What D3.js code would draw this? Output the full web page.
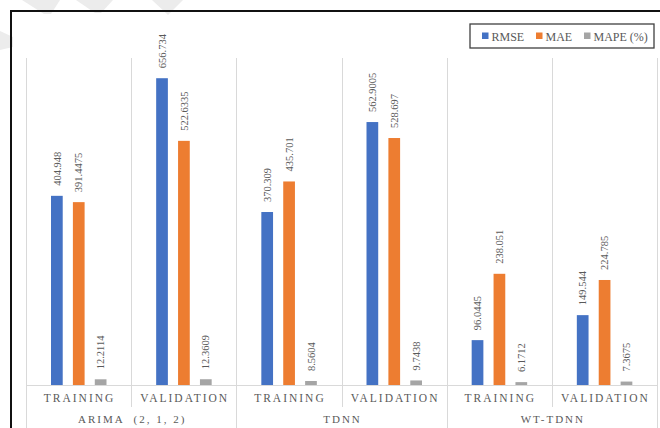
<!DOCTYPE html>
<html>
<head>
<meta charset="utf-8">
<script src="https://cdn.jsdelivr.net/npm/d3@7"></script>
<style>
  html, body { margin: 0; padding: 0; background: #fff; }
  svg { display: block; }
</style>
</head>
<body>
<svg id="chart" width="660" height="428" font-family="'Liberation Serif', 'DejaVu Serif', serif"></svg>
<script>
// ---- data ----
const groups = ["ARIMA  (2, 1, 2)", "TDNN", "WT-TDNN"];
const phases = ["TRAINING", "VALIDATION"];
const series = ["RMSE", "MAE", "MAPE (%)"];
const rmse = [404.948, 656.734, 370.309, 562.9005, 96.0445, 149.544];
const mae  = [391.4475, 522.6335, 435.701, 528.697, 238.051, 224.785];
const mape = [12.2114, 12.3609, 8.5604, 9.7438, 6.1712, 7.3675];
const colors = ["#4472C4", "#ED7D31", "#A5A5A5"];
const yMax = 700;

const categories = [];
groups.forEach((g, gi) => phases.forEach((p, pi) => categories.push({ id: gi + "-" + pi, group: g, phase: p })));
const valuesBySeries = [rmse, mae, mape];
const rows = categories.map((c, i) => ({ ...c, vals: series.map((s, si) => ({ s, si, v: valuesBySeries[si][i] })) }));

const svg = d3.select("#chart");

// faint watermark remnants (decoration)
const wm = svg.append("g").attr("fill", "#ececec");
[
  [[22,0],[60,0],[51,14],[44,14]],
  [[76,0],[113,0],[101,13],[95,13]],
  [[152,0],[183,0],[168,15]],
  [[0,31],[13,37],[13,47],[0,50]]
].forEach(p => wm.append("polygon").attr("points", p.map(d => d.join(",")).join(" ")));

// outer frame
svg.append("rect").attr("x", 11).attr("y", 11).attr("width", 700).attr("height", 500)
  .attr("fill", "none").attr("stroke", "#111").attr("stroke-width", 2);

const pLeft = 26, pRight = 657, pTop = 58, pBase = 385;
const x0 = d3.scaleBand().domain(categories.map(c => c.id)).range([pLeft, pRight]).padding(0);
const x1 = d3.scaleBand().domain(series).range([25, 80.5]).paddingInner(0.465).paddingOuter(0);
const y = d3.scaleLinear().domain([0, yMax]).range([pBase, pTop]);

// vertical separators
const grid = svg.append("g").attr("stroke", "#d9d9d9").attr("stroke-width", 1);
d3.range(categories.length + 1).forEach(i => {
  const xx = Math.round(pLeft + i * x0.step()) + 0.5;
  grid.append("line").attr("x1", xx).attr("x2", xx).attr("y1", pTop)
    .attr("y2", i % 2 === 0 ? 428 : 407);
});
grid.append("line").attr("x1", pLeft).attr("x2", pRight).attr("y1", pBase + 0.5).attr("y2", pBase + 0.5);

// bars
const cat = svg.append("g").selectAll("g").data(rows).join("g")
  .attr("transform", d => `translate(${x0(d.id)},0)`);
cat.selectAll("rect").data(d => d.vals).join("rect")
  .attr("x", d => x1(d.s))
  .attr("width", x1.bandwidth())
  .attr("y", d => y(d.v))
  .attr("height", d => pBase - y(d.v))
  .attr("fill", d => colors[d.si]);

// value labels
cat.selectAll("text").data(d => d.vals).join("text")
  .attr("transform", d => `translate(${x1(d.s) + x1.bandwidth() / 2},${y(d.v) - 10}) rotate(-90)`)
  .attr("dy", "0.35em")
  .attr("text-anchor", "start")
  .attr("font-size", 10.5)
  .attr("fill", "#595959")
  .text(d => String(d.v));

// category labels
svg.append("g").selectAll("text").data(categories).join("text")
  .attr("x", d => x0(d.id) + x0.bandwidth() / 2 + 1)
  .attr("y", 402)
  .attr("text-anchor", "middle")
  .attr("font-size", 11.5)
  .attr("letter-spacing", "2px")
  .attr("fill", "#595959")
  .text(d => d.phase);

// group labels
svg.append("g").selectAll("text").data(groups).join("text")
  .attr("x", (d, i) => pLeft + (i * 2 + 1) * x0.step() + 1)
  .attr("y", 423)
  .attr("text-anchor", "middle")
  .attr("font-size", 11)
  .attr("letter-spacing", "2px")
  .attr("fill", "#595959")
  .style("white-space", "pre")
  .text(d => d);

// legend
const lg = svg.append("g");
lg.append("rect").attr("x", 470).attr("y", 24).attr("width", 184).attr("height", 24)
  .attr("fill", "#fff").attr("stroke", "#404040").attr("stroke-width", 1.3);
const legX = [482, 536, 584];
series.forEach((s, i) => {
  lg.append("rect").attr("x", legX[i]).attr("y", 32.5).attr("width", 6.5).attr("height", 6.5).attr("fill", colors[i]);
  lg.append("text").attr("x", legX[i] + 9.5).attr("y", 40.5)
    .attr("font-size", 12).attr("fill", "#595959").text(s);
});
</script>
</body>
</html>
